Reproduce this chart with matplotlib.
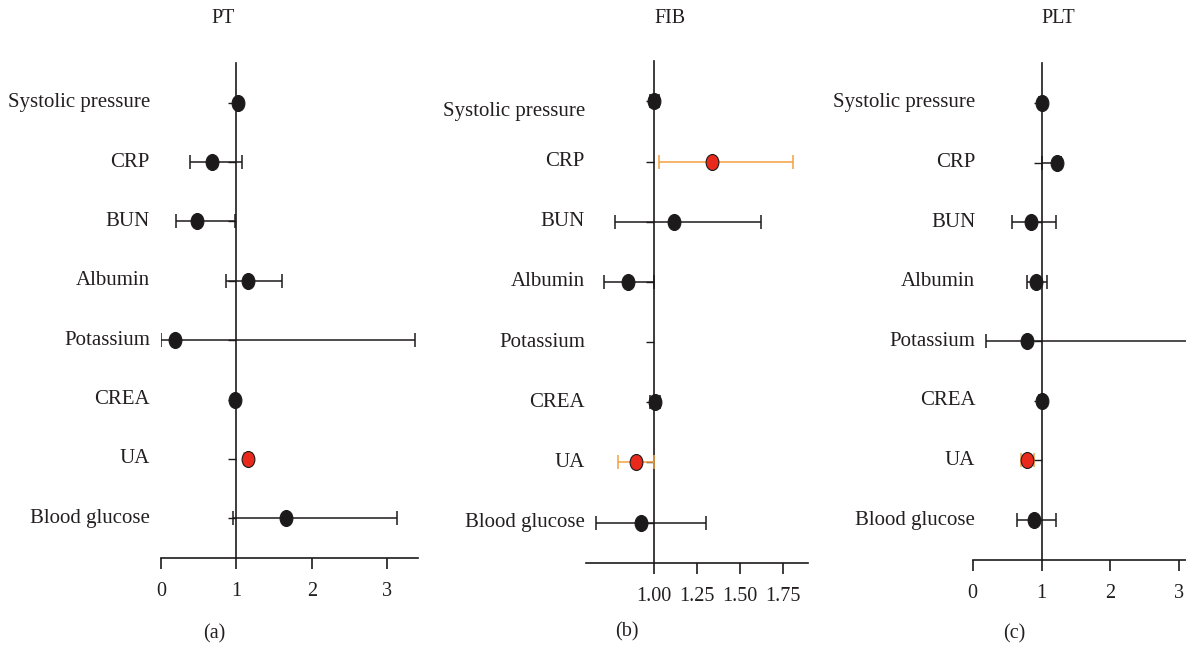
import numpy as np
import matplotlib
matplotlib.use("Agg")
import matplotlib.pyplot as plt
import matplotlib.transforms as mtransforms
from matplotlib.path import Path

plt.rcParams['font.family'] = ['Liberation Serif', 'DejaVu Serif']
plt.rcParams['font.size'] = 14

categories = ["Systolic pressure", "CRP", "BUN", "Albumin",
              "Potassium", "CREA", "UA", "Blood glucose"]

# PT
pt_or = [1.02, 0.67, 0.48, 1.15, 0.18, 0.98, 1.15, 1.65]
pt_low = [0.99, 0.38, 0.20, 0.86, 0.00, 0.95, 1.10, 0.95]
pt_high = [1.05, 1.07, 0.98, 1.61, 3.36, 1.01, 1.20, 3.13]
pt_sig = [False, False, False, False, False, False, True, False]

# FIB
fib_or = [1.00, 1.333, 1.114, 0.849, np.nan, 1.004, 0.895, 0.922]
fib_low = [0.975, 1.027, 0.773, 0.707, np.nan, 0.975, 0.791, 0.661]
fib_high = [1.03, 1.808, 1.62, 1.00, np.nan, 1.033, 1.00, 1.302]
fib_sig = [False, True, False, False, False, False, True, False]

# PLT
plt_or = [1.00, 1.22, 0.84, 0.92, 0.79, 1.00, 0.785, 0.887]
plt_low = [0.97, 1.00, 0.57, 0.785, 0.19, 0.97, 0.70, 0.65]
plt_high = [1.03, 1.28, 1.21, 1.08, 3.60, 1.03, 0.887, 1.21]
plt_sig = [False, False, False, False, False, False, True, False]

titles = ["PT", "FIB", "PLT"]
captions = ["(a)", "(b)", "(c)"]

dark = "#1c1a1b"
txt = "#231f20"
red = "#e8291c"
orange = "#f5a043"

# slightly tall ellipse marker like the reference
circ = Path.unit_circle()
ellipse = Path(circ.vertices * [0.8, 1.0], circ.codes)

W, H = 1186, 648
fig = plt.figure(figsize=(W / 100, H / 100), dpi=100)

# panel boxes in pixels: left, right, top, bottom
boxes = [(161, 418.3, 63, 558), (586, 808, 61, 563), (972.7, 1193, 63, 560)]
xlims = [(0, 3.41), (0.603, 1.894), (0, 3.2)]
xticks = [[0, 1, 2, 3], [1.0, 1.25, 1.5, 1.75], [0, 1, 2, 3]]
xticklabels = [["0", "1", "2", "3"], ["1.00", "1.25", "1.50", "1.75"], ["0", "1", "2", "3"]]
label_x = [-0.043, -0.005, 0.012]
# the FIB panel has its first label sitting a bit low
label_dy = [[0] * 8, [-7, 0, 0, 0, 0, 0, 0, 0], [0] * 8]
title_px = [(223, 18.6), (670, 18.6), (1058, 18.6)]
caption_px = [(214, 634), (627, 632), (1014, 634)]

panels = [(pt_or, pt_low, pt_high, pt_sig),
          (fib_or, fib_low, fib_high, fib_sig),
          (plt_or, plt_low, plt_high, plt_sig)]

n = len(categories)
ypos = np.arange(n)[::-1]

for k, (orv, low, high, sig) in enumerate(panels):
    l, r, t, b = boxes[k]
    ax = fig.add_axes([l / W, 1 - b / H, (r - l) / W, (b - t) / H])
    for i in range(n):
        if np.isnan(orv[i]):
            continue
        ecol = orange if sig[i] else dark
        fcol = red if sig[i] else dark
        ax.errorbar(orv[i], ypos[i],
                    xerr=[[orv[i] - low[i]], [high[i] - orv[i]]],
                    fmt="none", ecolor=ecol, elinewidth=1.1,
                    capsize=4.8, capthick=1.1, zorder=3)
        ax.plot(orv[i], ypos[i], marker=ellipse, markersize=11.5,
                markerfacecolor=fcol, markeredgecolor=dark,
                markeredgewidth=0.8, linestyle="none", zorder=4)

    ax.set_xlim(*xlims[k])
    ax.set_ylim(-0.67, n - 1 + 0.67)
    ax.set_xticks(xticks[k])
    ax.set_xticklabels(xticklabels[k])
    ax.set_yticks(ypos)
    ax.spines['left'].set_position(('data', 1))
    ax.spines['top'].set_visible(False)
    ax.spines['right'].set_visible(False)
    for s in ('left', 'bottom'):
        ax.spines[s].set_linewidth(1.2)
        ax.spines[s].set_color(dark)
    ax.tick_params(axis='y', direction='out', length=6, width=1.0,
                   color=dark, labelleft=False)
    ax.tick_params(axis='x', direction='out', length=8, width=1.2,
                   color=dark, pad=9, labelsize=14.5, labelcolor=txt)

    trans = mtransforms.blended_transform_factory(ax.transAxes, ax.transData)
    for i, name in enumerate(categories):
        tr = trans + mtransforms.ScaledTranslation(0, label_dy[k][i] / 72,
                                                   fig.dpi_scale_trans)
        ax.text(label_x[k], ypos[i], name, transform=tr,
                ha='right', va='center', fontsize=15, color=txt)

    fig.text(title_px[k][0] / W, 1 - title_px[k][1] / H, titles[k],
             ha='center', va='center', fontsize=14.5, color=txt)
    fig.text(caption_px[k][0] / W, 1 - caption_px[k][1] / H, captions[k],
             ha='center', va='center', fontsize=14.5, color=txt)

fig.savefig("out.png", dpi=100)
